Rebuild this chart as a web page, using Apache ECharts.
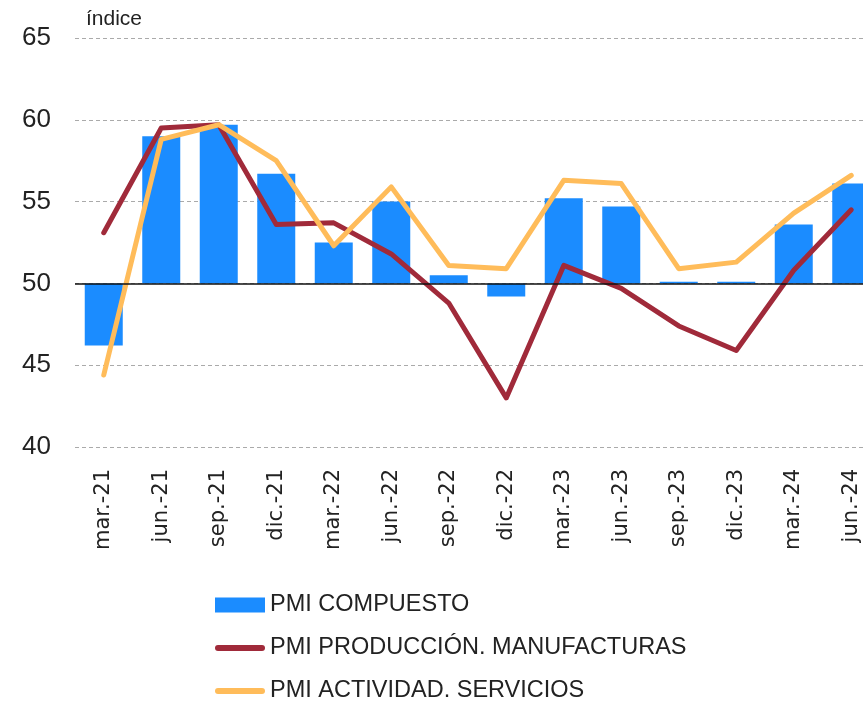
<!DOCTYPE html>
<html>
<head>
<meta charset="utf-8">
<script src="https://cdn.jsdelivr.net/npm/echarts@6/dist/echarts.min.js"></script>
<style>
    html, body { margin: 0; padding: 0; background: #fff; overflow: hidden; }
    /* plot runs past the right edge of the window, like the original */
    #charts { width: 880px; height: 705px; }
</style>
</head>
<body>
<div id="charts"></div>
<script>
var categories = ['mar.-21', 'jun.-21', 'sep.-21', 'dic.-21', 'mar.-22', 'jun.-22', 'sep.-22',
    'dic.-22', 'mar.-23', 'jun.-23', 'sep.-23', 'dic.-23', 'mar.-24', 'jun.-24'];
var compuesto = [46.2, 59.0, 59.7, 56.7, 52.5, 55.0, 50.5, 49.2, 55.2, 54.7, 50.1, 50.1, 53.6, 56.1];
var manufacturas = [53.1, 59.5, 59.7, 53.6, 53.7, 51.8, 48.8, 43.0, 51.1, 49.7, 47.4, 45.9, 50.8, 54.5];
var servicios = [44.4, 58.8, 59.7, 57.5, 52.3, 55.9, 51.1, 50.9, 56.3, 56.1, 50.9, 51.3, 54.3, 56.6];
var baseline = 50;
var yTicks = { min: 40, max: 65, interval: 5 };

// bars hang from 50: transparent part up to min(v,50), visible part the difference
var barBase = compuesto.map(function (v) { return Math.min(v, baseline); });
var barSize = compuesto.map(function (v) { return Math.abs(v - baseline); });

var font = 'Liberation Sans';
var lineIcon = 'path://M3,0 H47 A3,3 0 0 1 47,6 H3 A3,3 0 0 1 3,0 Z';
var myChart = echarts.init(document.getElementById('charts'));
var option = {
    animation: false,
    textStyle: { fontFamily: font },
    title: {
        text: 'índice',
        left: 86,
        top: 9,
        padding: 0,
        textStyle: { fontFamily: font, fontSize: 21, fontWeight: 'normal', color: '#222' }
    },
    grid: {
        left: 75,
        top: 38,
        right: 0,
        bottom: 258,
        outerBoundsMode: 'none'
    },
    legend: {
        orient: 'vertical',
        left: 215,
        top: 593,
        padding: 0,
        itemWidth: 50,
        itemHeight: 15,
        itemGap: 19,
        symbolKeepAspect: true,
        textStyle: { fontFamily: font, fontSize: 23.5, color: '#222' },
        data: [
            { name: 'PMI COMPUESTO', icon: 'rect' },
            { name: 'PMI PRODUCCIÓN. MANUFACTURAS', icon: lineIcon },
            { name: 'PMI ACTIVIDAD. SERVICIOS', icon: lineIcon }
        ]
    },
    xAxis: {
        type: 'category',
        data: categories,
        axisLine: { show: false },
        axisTick: { show: false },
        axisLabel: {
            rotate: 90,
            margin: 22,
            fontSize: 21,
            color: '#222',
            fontFamily: 'DejaVu Sans'
        }
    },
    yAxis: {
        type: 'value',
        min: yTicks.min,
        max: yTicks.max,
        interval: yTicks.interval,
        axisLine: { show: false },
        axisTick: { show: false },
        axisLabel: { fontSize: 26, color: '#222', margin: 24, fontFamily: font },
        splitLine: { lineStyle: { type: [4, 3], color: '#aaa', width: 1 } }
    },
    series: [{
        name: 'base',
        type: 'bar',
        stack: 'pmi',
        barWidth: 38,
        silent: true,
        itemStyle: { color: 'transparent' },
        data: barBase
    }, {
        name: 'PMI COMPUESTO',
        type: 'bar',
        stack: 'pmi',
        barWidth: 38,
        itemStyle: { color: '#1b8cff' },
        data: barSize,
        markLine: {
            silent: true,
            symbol: 'none',
            label: { show: false },
            lineStyle: { color: '#111', width: 1.5, type: 'solid' },
            data: [{ yAxis: baseline }]
        }
    }, {
        name: 'PMI PRODUCCIÓN. MANUFACTURAS',
        type: 'line',
        symbol: 'none',
        lineStyle: { color: '#a02a3a', width: 5, cap: 'round', join: 'round' },
        itemStyle: { color: '#a02a3a' },
        data: manufacturas
    }, {
        name: 'PMI ACTIVIDAD. SERVICIOS',
        type: 'line',
        symbol: 'none',
        lineStyle: { color: '#ffbc5a', width: 5, cap: 'round', join: 'round' },
        itemStyle: { color: '#ffbc5a' },
        data: servicios
    }]
};
myChart.setOption(option);
</script>
</body>
</html>
